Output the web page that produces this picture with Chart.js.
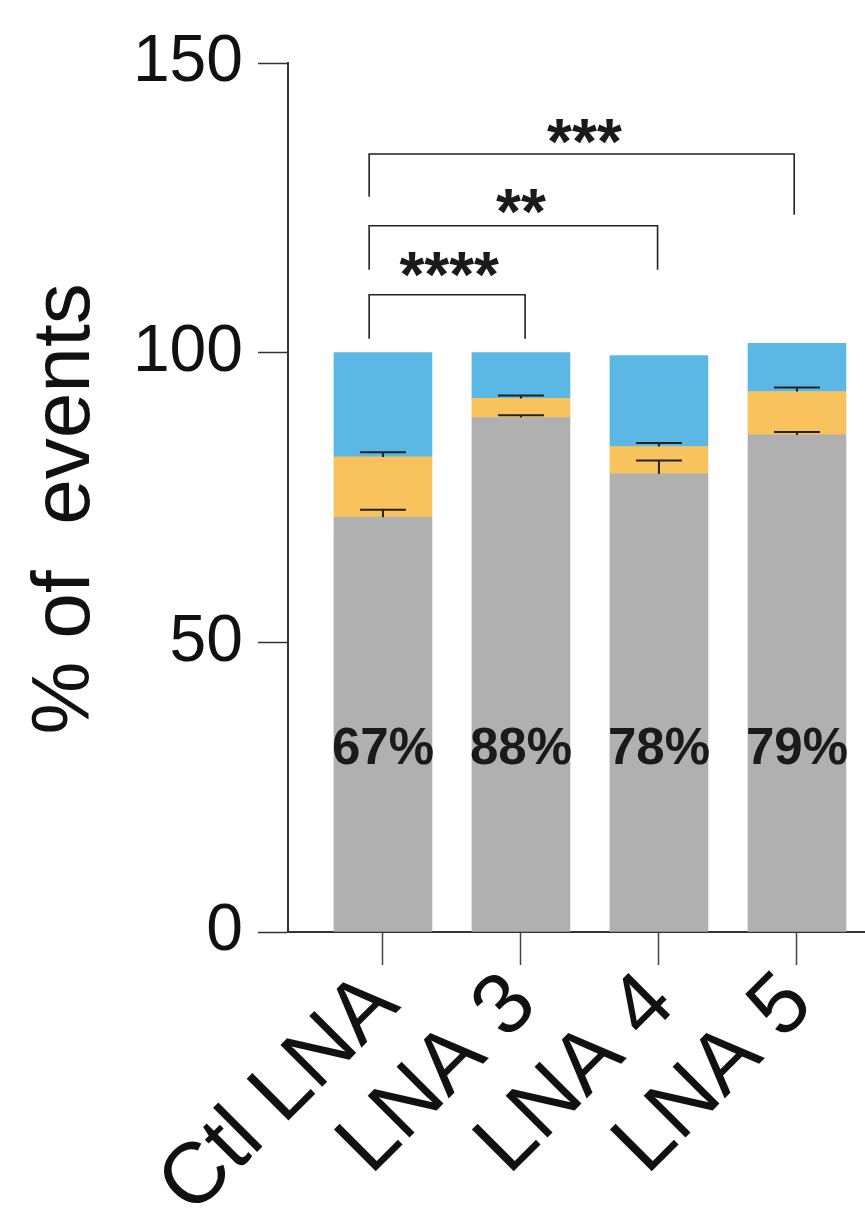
<!DOCTYPE html>
<html>
<head>
<meta charset="utf-8">
<script src="https://cdn.jsdelivr.net/npm/chart.js@4"></script>
<style>
body{margin:0;background:#fff;}
canvas{display:block;}
</style>
</head>
<body>
<canvas id="chart" width="865" height="1209"></canvas>
<script>
// data
const categories = ["Ctl LNA", "LNA 3", "LNA 4", "LNA 5"];
const grayValues = [71.6, 88.8, 79.1, 85.8];
const grayErrors = [1.3, 0.4, 2.3, 0.5];
const orangeValues = [10.4, 3.3, 4.7, 7.5];
const orangeErrors = [0.8, 0.5, 0.6, 0.7];
const blueValues = [18.0, 7.9, 15.7, 8.3];
const pctLabels = ["67%", "88%", "78%", "79%"];
const sigPairs = [[0, 1], [0, 2], [0, 3]];
const sigLabels = ["****", "**", "***"];

const toPoints = vals => vals.map((v, i) => ({x: i, y: v}));

// error bars on top of each stacked segment (only upward)
const errorBars = {
  id: "errorBars",
  afterDatasetsDraw(chart) {
    let ctx = chart.ctx;
    let y = chart.scales.y;
    ctx.save();
    ctx.strokeStyle = "#222";
    ctx.lineWidth = 2;
    chart.data.datasets.forEach((ds, di) => {
      if (!ds.errors) return;
      let meta = chart.getDatasetMeta(di);
      meta.data.forEach((bar, i) => {
        let top = 0;
        for (let k = 0; k <= di; k++) top += chart.data.datasets[k].data[i].y;
        let yTop = y.getPixelForValue(top + ds.errors[i]);
        ctx.beginPath();
        ctx.moveTo(bar.x, bar.y);
        ctx.lineTo(bar.x, yTop);
        ctx.moveTo(bar.x - 23, yTop);
        ctx.lineTo(bar.x + 23, yTop);
        ctx.stroke();
      });
    });
    ctx.restore();
  }
};

// percent text inside bars + significance brackets
const annotations = {
  id: "annotations",
  afterDatasetsDraw(chart, args, opts) {
    let ctx = chart.ctx;
    let x = chart.scales.x, y = chart.scales.y;
    ctx.save();
    ctx.fillStyle = "#1a1a1a";
    ctx.textAlign = "center";
    ctx.textBaseline = "alphabetic";
    ctx.font = "bold 51px 'Liberation Sans', Arial, sans-serif";
    pctLabels.forEach((t, i) => {
      ctx.fillText(t, x.getPixelForValue(i), y.getPixelForValue(opts.pctY));
    });

    ctx.strokeStyle = "#222";
    ctx.lineWidth = 1.6;
    let fs = 64;
    ctx.font = "bold " + fs + "px 'Liberation Sans', Arial, sans-serif";
    sigPairs.forEach((p, i) => {
      let x1 = x.getPixelForValue(p[0] + opts.leftShift);
      let x2 = x.getPixelForValue(p[1] + opts.rightShift[i]);
      let yl = y.getPixelForValue(opts.levels[i]);
      ctx.beginPath();
      ctx.moveTo(x1, y.getPixelForValue(opts.legLeft[i]));
      ctx.lineTo(x1, yl);
      ctx.lineTo(x2, yl);
      ctx.lineTo(x2, y.getPixelForValue(opts.legRight[i]));
      ctx.stroke();
      // asterisks sit ~0.58em above the baseline
      ctx.fillText(sigLabels[i], x.getPixelForValue(opts.starX[i]), y.getPixelForValue(opts.starLevels[i]) + 0.58 * fs);
    });
    ctx.restore();
  }
};

new Chart(document.getElementById("chart"), {
  type: "bar",
  data: {
    datasets: [
      {label: "gray", data: toPoints(grayValues), errors: grayErrors, backgroundColor: "#b0b0b0"},
      {label: "orange", data: toPoints(orangeValues), errors: orangeErrors, backgroundColor: "#f8c25d"},
      {label: "blue", data: toPoints(blueValues), backgroundColor: "#5bb8e4"}
    ]
  },
  options: {
    responsive: false,
    animation: false,
    barThickness: 98,
    layout: {padding: {top: 63, left: 0, right: 0, bottom: 0}},
    plugins: {
      legend: {display: false},
      tooltip: {enabled: false},
      annotations: {
        pctY: 29,
        leftShift: -0.1,
        rightShift: [0.03, -0.01, -0.02],
        levels: [110.0, 121.9, 134.3],
        legLeft: [102.4, 114.3, 126.9],
        legRight: [102.4, 114.3, 123.8],
        starX: [0.48, 1.0, 1.46],
        starLevels: [116.0, 126.9, 139.0]
      }
    },
    scales: {
      x: {
        type: "linear",
        stacked: true,
        offset: false,
        min: -0.688,
        max: 3.493,
        afterBuildTicks: axis => { axis.ticks = categories.map((c, i) => ({value: i})); },
        afterFit: axis => { axis.height = 277; axis.paddingLeft = 0; axis.paddingRight = 0; },
        grid: {offset: false, drawOnChartArea: false, tickLength: 33, color: "#444", tickWidth: 1.5},
        border: {color: "#333", width: 2},
        ticks: {
          autoSkip: false,
          minRotation: 45,
          maxRotation: 45,
          padding: -11,
          labelOffset: 2,
          color: "#111",
          font: {family: "'Liberation Sans', Arial, sans-serif", size: 86},
          callback: v => categories[v]
        }
      },
      y: {
        stacked: true,
        min: 0,
        max: 150,
        afterFit: axis => { axis.width = 288; },
        grid: {drawOnChartArea: false, tickLength: 30, color: "#333", tickWidth: 1.5},
        border: {color: "#333", width: 2},
        ticks: {
          stepSize: 50,
          padding: 15,
          color: "#111",
          font: {family: "'Liberation Sans', Arial, sans-serif", size: 66}
        },
        title: {
          display: true,
          text: "% of  events ",
          color: "#111",
          padding: {top: 25, bottom: 0},
          font: {family: "'Liberation Sans', Arial, sans-serif", size: 82, lineHeight: 1}
        }
      }
    }
  },
  plugins: [errorBars, annotations]
});
</script>
</body>
</html>
